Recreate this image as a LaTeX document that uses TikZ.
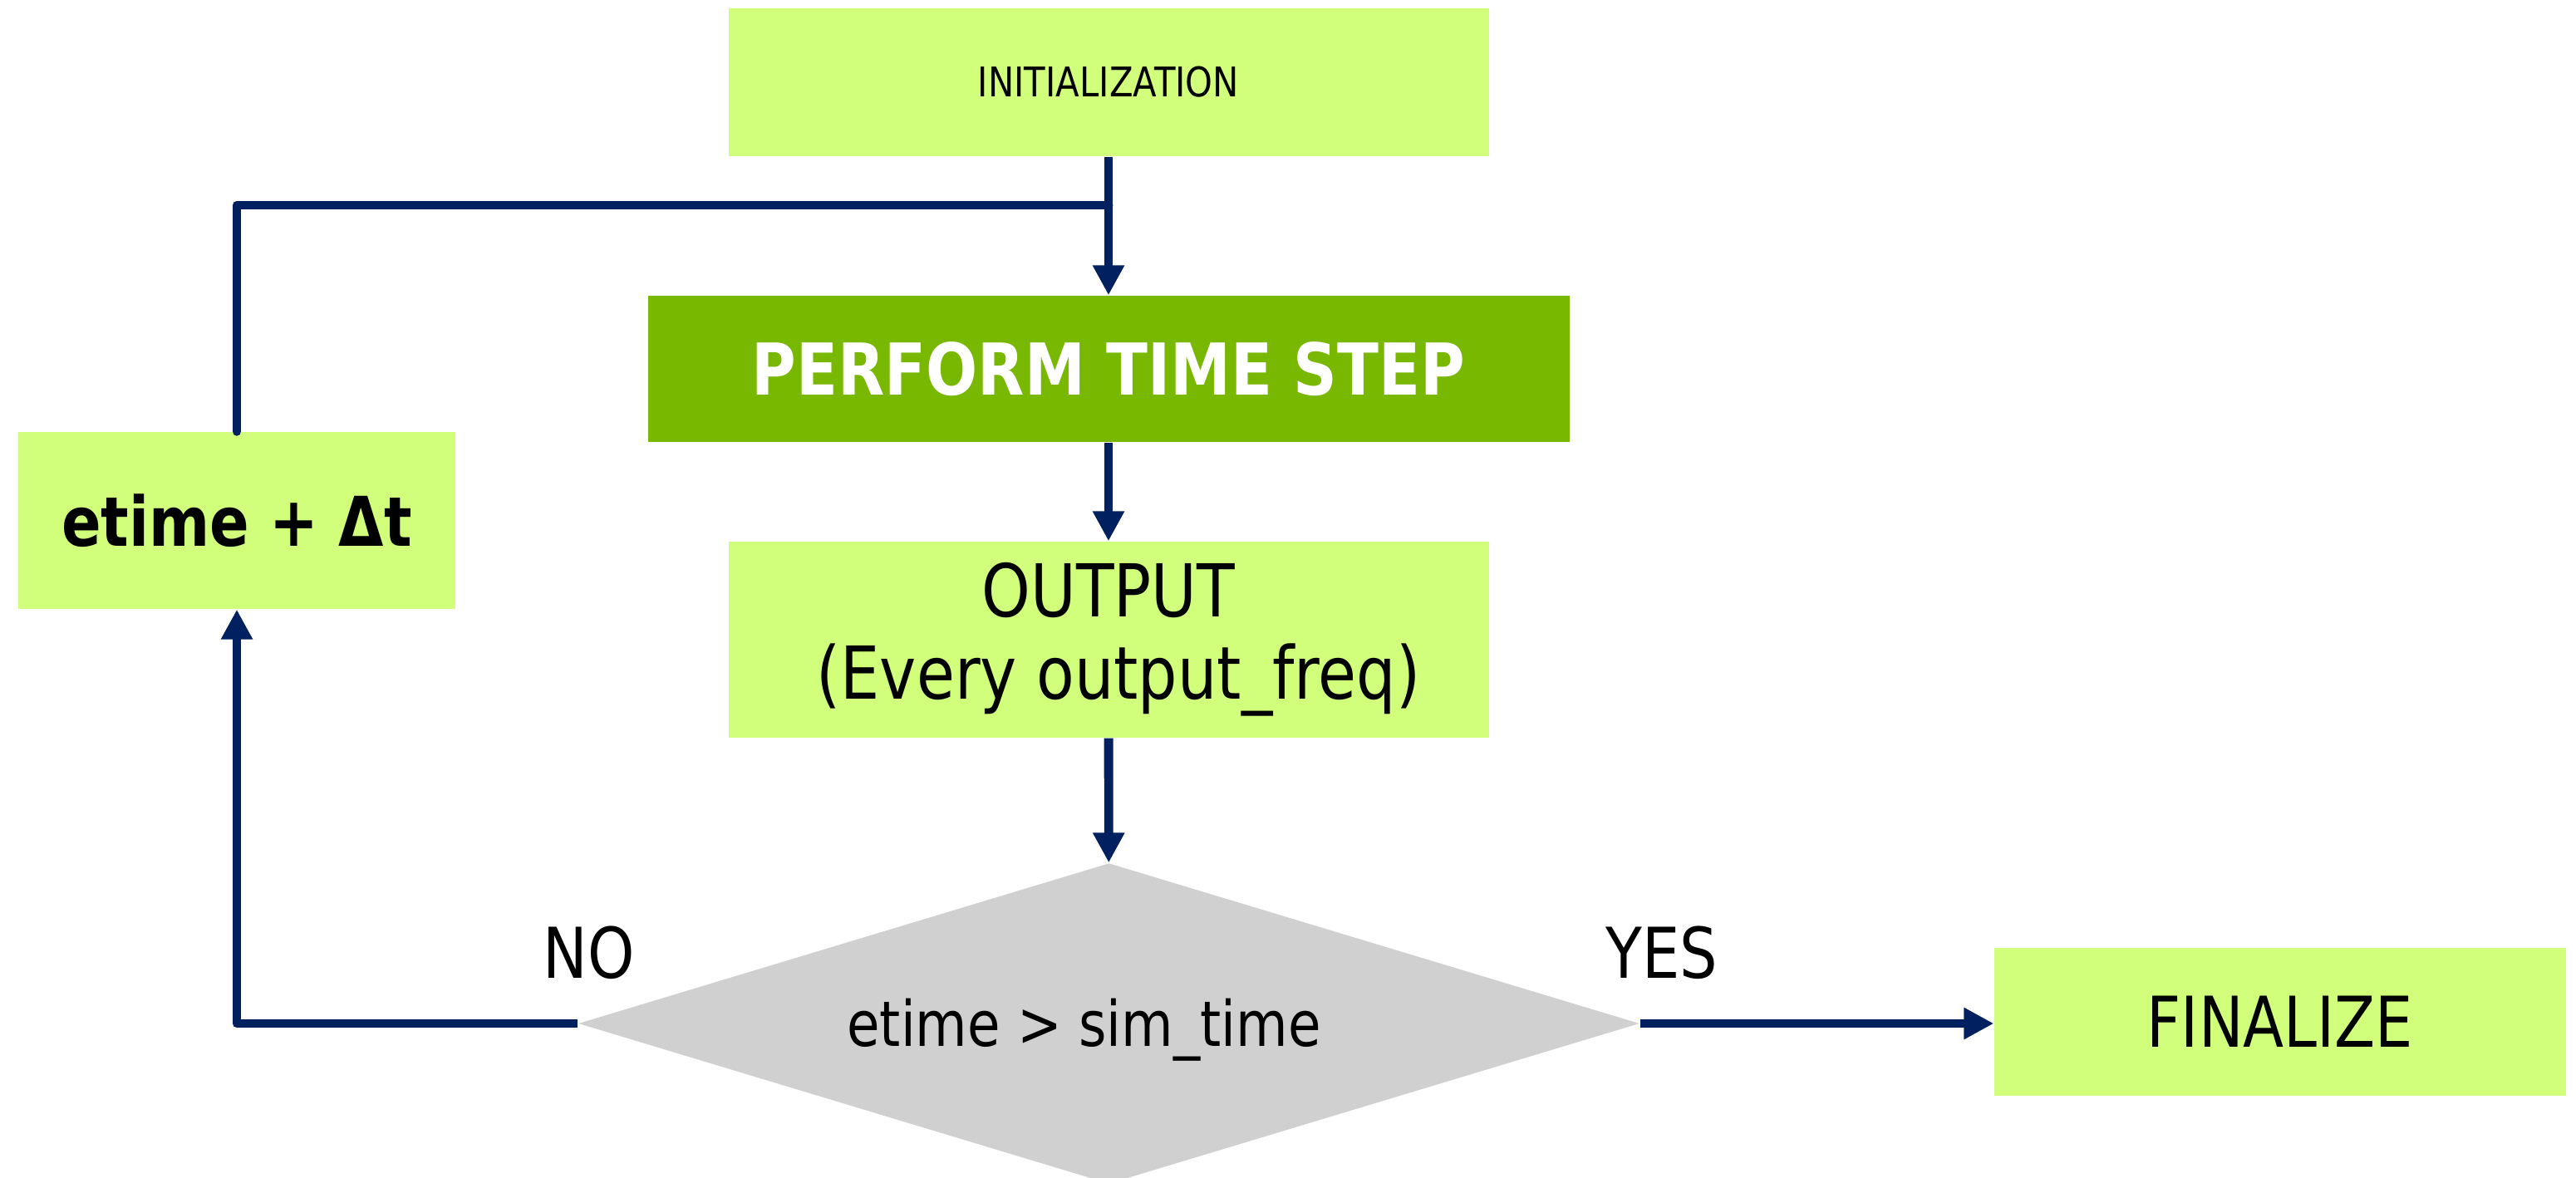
\documentclass[tikz,border=0pt]{standalone}
\usepackage{fontspec}
\setmainfont{DejaVu Sans}[FakeStretch=0.85]
\usetikzlibrary{arrows.meta,shapes.geometric}
\definecolor{lightgreen}{HTML}{D2FF7B}
\definecolor{darkgreen}{HTML}{78B800}
\definecolor{navy}{HTML}{002060}
\definecolor{decisiongray}{HTML}{D0D0D0}
\begin{document}
\begin{tikzpicture}[
    box/.style={rectangle,fill=lightgreen,inner sep=0pt,align=center},
    flow/.style={draw=navy,line width=3.1pt,line join=round,-{Triangle[length=3.6mm,width=3.6mm]}},
    link/.style={draw=navy,line width=3.1pt,line join=round,line cap=round}]
    \useasboundingbox (0,0) rectangle (31,-14.17);
    \node[box,minimum width=9.15cm,minimum height=1.78cm,font=\fontsize{14}{16}\selectfont] (init) at (13.34,-0.99) {INITIALIZATION};
    \node[box,fill=darkgreen,text=white,minimum width=11.09cm,minimum height=1.76cm,font=\fontsize{24.5}{28}\selectfont\bfseries] (perform) at (13.34,-4.44) {PERFORM TIME STEP};
    \node[box,minimum width=9.15cm,minimum height=2.36cm,font=\fontsize{25}{28.2}\selectfont] (output) at (13.34,-7.70) {OUTPUT\\\ (Every output\_freq)};
    \node[box,minimum width=5.26cm,minimum height=2.13cm,font=\fontsize{23.5}{27}\selectfont\bfseries] (etime) at (2.85,-6.265) {etime + Δt};
    \node[diamond,fill=decisiongray,aspect=3.3,minimum width=12.77cm,minimum height=3.86cm,inner sep=0pt] (check) at (13.345,-12.32) {};
    \node[font=\fontsize{21.5}{25}\selectfont] (checktext) at ([xshift=-0.3cm,yshift=-0.08cm]check.center) {etime > sim\_time};
    \node[box,minimum width=6.88cm,minimum height=1.78cm,font=\fontsize{24}{28}\selectfont] (final) at (27.44,-12.30) {FINALIZE};
    \node[font=\fontsize{24}{28}\selectfont] (no) at (7.09,-11.47) {NO};
    \node[font=\fontsize{24}{28}\selectfont] (yes) at (20.00,-11.47) {YES};
    \coordinate (join) at (13.34,-2.47);
    \draw[flow] (init) -- (perform);
    \draw[flow] (perform) -- (output);
    \draw[flow] (output) -- (check);
    \draw[flow] (check.east) -- (check.east -| final.west);
    \draw[flow] (check.west) -| (etime.south);
    \draw[link] (etime.north) |- (join);
\end{tikzpicture}
\end{document}
